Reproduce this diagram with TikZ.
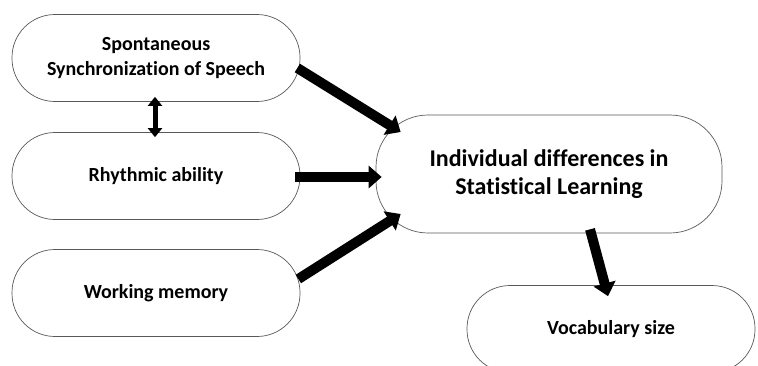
\documentclass[tikz,border=0pt]{standalone}
\usepackage{fontspec}
\setmainfont[Ligatures={NoCommon}]{Carlito}
\usetikzlibrary{arrows.meta,calc}
\tikzset{
  box/.style={draw=black!65, line width=0.7pt, rounded corners=43pt, minimum width=288pt, minimum height=87pt, align=center, font=\fontsize{20}{25}\selectfont\bfseries, inner sep=0pt},
  bigbox/.style={box, rounded corners=52pt, minimum width=346pt, minimum height=118pt, font=\fontsize{24}{28}\selectfont\bfseries},
  fat/.style={line width=10pt, -{Triangle[width=22pt,length=13pt]}},
  thin2/.style={line width=5pt, {Triangle[width=14pt,length=9pt]}-{Triangle[width=14pt,length=9pt]}},
}
\begin{document}
\begin{tikzpicture}[x=1pt,y=-1pt]
\useasboundingbox (0,0) rectangle (758,365);
\clip (0,0) rectangle (758,365);
\node[box] (s1) at (156,58) {Spontaneous\\Synchronization of Speech};
\node[box] (s2) at (156,176) {Rhythmic ability};
\node[box] (s3) at (156,293) {Working memory};
\node[bigbox] (ind) at (549,174) {Individual differences in\\Statistical Learning};
\node[box] (voc) at (611,329) {Vocabulary size};
\draw[fat] ($(s1.east)+(-3,10)$) -- ($(ind.west)+(25,-42)$);
\draw[fat] ($(s2.east)+(-5,1)$) -- ($(ind.west)+(6,3)$);
\draw[fat] ($(s3.east)+(-2,-14)$) -- ($(ind.west)+(25,40)$);
\draw[fat] ($(ind.south)+(41,-4)$) -- ($(voc.north)+(-3,11)$);
\draw[thin2] ($(s1.south)+(-1,-5)$) -- ($(s2.north)+(-1,5)$);
\end{tikzpicture}
\end{document}
